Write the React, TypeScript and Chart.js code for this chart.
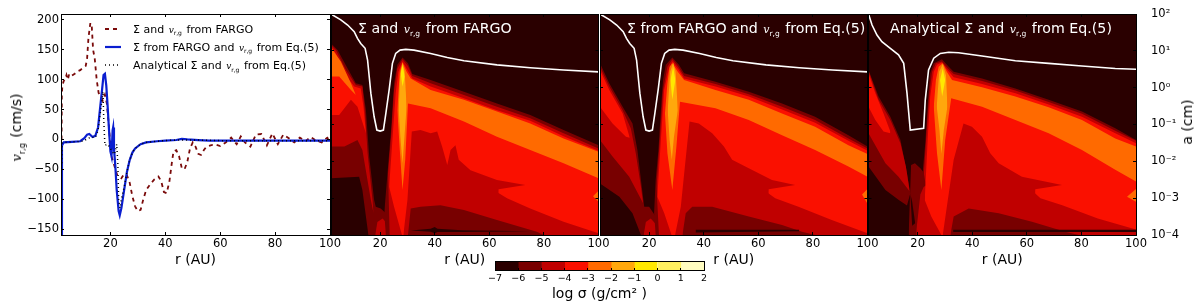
import React, { useEffect, useRef } from "react";
import { Chart, registerables } from "chart.js";

Chart.register(...registerables);

const FONT = "'DejaVu Sans', sans-serif";

// ---------- left panel: radial velocity ----------
const rFargo = [2.2, 2.3, 2.5, 3, 3.5, 4, 4.5, 5, 6, 7, 8, 9, 10, 11, 11.5, 12, 12.7, 13.2, 13.7, 14.3, 15, 15.7, 16.5, 17.2, 18, 18.7, 19.3, 20, 20.5, 21.5, 22.5, 24, 25, 26, 27, 28, 29, 30, 31, 32, 33, 34.5, 36, 37.5, 38.5, 39.5, 40.5, 41.5, 42.5, 43, 44, 45, 46, 47, 48, 49, 50, 51, 52, 53, 54, 55, 56.5, 58, 60, 62, 64, 66, 67.5, 69, 71, 73, 75, 77, 79, 81, 83, 85, 87, 89, 91, 93, 95, 97, 99, 100];
const vFargo = [0, 75, 90, 98, 100, 108, 100, 110, 107, 110, 114, 116, 120, 123, 135, 170, 195, 190, 150, 135, 100, 78, 72, 65, 75, 60, 30, -10, -30, -45, -60, -65, -58, -60, -72, -95, -112, -120, -118, -100, -85, -75, -67, -62, -70, -88, -90, -70, -35, -20, -18, -28, -48, -50, -38, -15, -5, -12, -24, -26, -18, -12, -10, -8, -11, -5, 3, -8, 5, -5, -12, 8, 9, -10, 10, -8, 8, 2, -5, 3, -3, 4, -2, -5, 3, -2];
const rEq5 = [2.3, 2.35, 3, 6, 9, 10.5, 11.5, 12.3, 13.5, 14.5, 15.5, 16.3, 17, 17.5, 18, 18.5, 19, 19.5, 20, 20.4, 20.8, 21, 21.3, 21.8, 22.3, 23, 23.4, 24, 25, 26, 27, 28, 29, 31, 33, 37, 40, 44, 46, 48, 52, 56, 60, 80, 100];
const vEq5 = [-160, -10, -5, -4, -3, 2, 8, 9, 4, 6, 20, 55, 85, 108, 110, 90, 55, 15, -20, -28, 15, 20, -15, -45, -85, -120, -127, -115, -85, -55, -35, -22, -15, -8, -5, -3, -2, -1, 1, 0, -1, -2, -2, -2, -2];
const rAnalytic = [2.3, 2.35, 3, 6, 10, 12, 13, 14.5, 15.5, 16.5, 17.3, 17.6, 18, 19, 20, 20.5, 21.5, 22.3, 22.7, 23, 23.5, 24, 25, 26, 27, 28, 29, 31, 33, 37, 40, 44, 52, 60, 80, 100];
const vAnalytic = [-40, -6, -5, -4, -3, 2, 4, 3, 15, 50, 80, 30, -10, -8, -15, -20, -25, -8, -40, -100, -115, -100, -80, -55, -35, -22, -15, -8, -5, -3, -2, -1, -1, -2, -2, -2];

const legendNames = ["fargo", "eq5", "analytic"];

// ---------- colour levels ----------
const bandColors = ["#2a0000", "#780000", "#c00000", "#fa1000", "#ff6a00", "#ffa80c", "#ffe800", "#fff060", "#fffcc0"];
const cbLevels = [-7, -6, -5, -4, -3, -2, -1, 0, 1, 2];

// ---------- dust size curves: [r (AU), log10 a (cm)] ----------
const wall = [[2, 2], [100, 2]];
const floor = [[2, -4], [100, -4]];
const whiteFargo = [[2, 2], [5.6, 1.84], [8.1, 1.7], [10.5, 1.52], [11.7, 1.34], [12.9, 1.2], [14.5, 1.07], [15.4, 0.75], [16.6, -0.15], [17.8, -0.79], [18.8, -1.15], [20, -1.18], [21.2, -1.15], [22.1, -0.7], [23.3, -0.06], [24.5, 0.66], [25.7, 0.93], [27.3, 1.02], [29.4, 1.04], [32.4, 1.02], [38.5, 0.93], [44.6, 0.82], [50.7, 0.73], [62.8, 0.62], [75, 0.54], [87.2, 0.48], [100, 0.43]];
const whiteAnalytic = [[2, 2], [3.3, 1.7], [5.1, 1.43], [6.9, 1.25], [10, 1.07], [13, 0.89], [14.9, 0.66], [16.1, -0.15], [17.3, -1.15], [22.2, -1.1], [22.8, -0.33], [24, 0.48], [25.9, 0.8], [28.3, 0.93], [31.4, 0.96], [35, 0.95], [43.6, 0.86], [55.8, 0.73], [68, 0.66], [80.2, 0.59], [92.4, 0.52], [100, 0.5]];

// panel A: Sigma and v from FARGO
const aIn6Up = [[2, 1.2], [4.4, 1.02], [8.1, 0.52], [11.1, 0.12], [13.5, 0.07], [14.8, -0.61], [16, -1.87], [17.8, -3.05], [18.4, -3.23], [20.2, -3.28], [22.1, -3.41], [23.6, -3.95], [23.9, -4]];
const aIn6Lo = [[2, -2.46], [12.3, -2.42], [13.5, -2.78], [15.7, -4], [23.9, -4]];
const aIn5Up = [[2, 1.16], [3.8, 1.02], [7.5, 0.48], [11.1, 0.07], [13.5, 0.03], [14.5, -0.7], [15.4, -1.78], [17.2, -3.05], [17.6, -3.41]];
const aIn5Lo = [[2, -1.6], [6.9, -1.6], [11.7, -1.42], [13.5, -1.69], [16.6, -3.05], [17.6, -3.41]];
const aIn4Up = [[2, 1.11], [3.8, 0.93], [6.9, 0.39], [10.5, 0.03], [12.9, -0.02], [13.9, -0.52], [14.8, -1.24]];
const aIn4Lo = [[2, -0.74], [5, -0.74], [9.3, -0.33], [11.7, -0.52], [14.8, -1.24]];
const aIn3Up = [[2, 1.09], [5.6, 0.71], [9.3, 0.12], [11.1, -0.2]];
const aIn3Lo = [[2, 0.3], [5, 0.3], [9.3, -0.06], [11.1, -0.2]];
const aMid5Up = [[18.2, -4], [19, -3.65], [20.9, -3.55], [22.7, -3.7], [23.9, -4]];
const aMid5Lo = [[18.2, -4], [23.9, -4]];
const aOut6Up = [[21.5, -3.41], [22.9, -2.14], [24.1, -1.06], [25.1, 0.12], [26.3, 0.62], [28.2, 0.82], [30.2, 0.66], [31.8, 0.37], [38.5, 0.21], [50.7, -0.11], [62.8, -0.43], [75, -0.74], [87.2, -1.15], [100, -1.56]];
const aOut6Lo = [[21.5, -3.41], [22.1, -4], [100, -4]];
const aOut5Up = [[22.9, -2.33], [24.1, -1.24], [25.1, -0.06], [26.3, 0.52], [28.2, 0.77], [30.2, 0.59], [31.8, 0.32], [38.5, 0.12], [50.7, -0.2], [62.8, -0.52], [75, -0.83], [87.2, -1.24], [100, -1.65]];
const aOut5Lo = [[22.9, -2.33], [23.5, -4], [100, -4]];
const aOut4Up = [[23.3, -2.69], [24.5, -1.42], [25.7, -0.15], [26.7, 0.43], [28.2, 0.71], [30, 0.48], [31.8, 0.25], [38.5, 0.03], [50.7, -0.29], [62.8, -0.61], [75, -0.9], [87.2, -1.32], [100, -1.71]];
const aOut4Lo = [[23.3, -2.69], [25.1, -3.23], [28, -4], [29, -4], [100, -4]];
const aOut3Up = [[26.3, -0.61], [27.2, 0.43], [28.2, 0.68], [29.7, 0.43], [31.2, 0.25], [38.5, -0.06], [50.7, -0.33], [62.8, -0.65], [75, -0.97], [87.2, -1.38], [100, -1.74]];
const aOut3Lo = [[26.3, -0.61], [27.2, -1.69], [28.2, -2.78], [29.2, -1.96], [30.2, -0.43], [38.5, -0.56], [50.7, -0.92], [62.8, -1.33], [75, -1.69], [87.2, -2.05], [100, -2.46]];
const aOut2Up = [[26.8, -0.61], [27.3, 0.3], [28.2, 0.68], [29, 0.43], [29.7, -0.52]];
const aOut2Lo = [[26.8, -0.61], [27.5, -1.42], [28.2, -2.05], [29, -1.24], [29.7, -0.52]];
const aOut1Up = [[27.5, 0.39], [28.2, 0.62], [29, 0.3]];
const aOut1Lo = [[27.5, 0.39], [28.2, 0.03], [29, 0.3]];
const aTongueUp = [[28.5, -4], [30, -3.05], [31.6, -1.19], [34.8, -1.15], [38.5, -1.24], [40.9, -1.19], [42.7, -1.6], [44.6, -2.1], [45.8, -1.69], [47.6, -1.56], [48.8, -1.96], [53.1, -2.24], [62.8, -2.51], [73.2, -2.64]];
const aTongueLo = [[28.5, -4], [62.8, -4], [63.4, -2.76], [73.2, -2.64]];
const aWedgeUp = [[62, -2.8], [66.5, -3], [75, -3.28], [87.2, -3.64], [100, -3.95]];
const aWedgeLo = [[62, -4], [100, -4]];
const aHoleUp = [[30.2, -4], [31.2, -3.28], [34.8, -3.23], [42.1, -3.19], [50.7, -3.32], [62.8, -3.59], [77.4, -3.91], [79.9, -4]];
const aHoleLo = [[30.2, -4], [79.9, -4]];
const aStreakUp = [[31.2, -3.88], [38.5, -3.83], [40, -3.78], [41, -3.83], [50, -3.87], [75, -3.9]];
const aStreakLo = [[31.2, -3.88], [38.5, -3.91], [40, -3.95], [41, -3.92], [50, -3.92], [75, -3.9]];
const aSpotUp = [[98, -2.95], [100, -2.8]];
const aSpotLo = [[98, -2.95], [100, -3.1]];

// panel B: Sigma from FARGO, v from Eq.(5)
const bIn6Up = [[2, 0.66], [5.4, 0.12], [10.3, -0.52], [13.9, -0.97], [15.7, -1.69], [17.3, -2.69], [18.2, -3.23], [20, -3.23], [22.4, -3.5], [23.6, -4]];
const bIn6Lo = [[2, -2.6], [9.1, -2.96], [13.9, -3.41], [17, -4], [23.6, -4]];
const bIn5Up = [[2, 0.57], [5.4, 0.03], [10.3, -0.61], [13.3, -1.11], [15.1, -1.78], [17, -2.69], [17.8, -3.14]];
const bIn5Lo = [[2, -1.42], [6.6, -1.87], [12.7, -2.42], [17.8, -3.14]];
const bIn4Up = [[2, 0.48], [5.4, -0.06], [10.3, -0.7], [12.9, -1.36]];
const bIn4Lo = [[2, -0.52], [6.6, -0.97], [11.5, -1.33], [12.9, -1.36]];
const bMid5Up = [[18, -4], [18.8, -3.65], [20.6, -3.55], [22.4, -3.7], [23.6, -4]];
const bMid5Lo = [[18, -4], [23.6, -4]];
const bOut6Up = [[21.8, -3.41], [22.4, -2.51], [23.4, -1.69], [24.3, -0.61], [25.1, 0.21], [26.1, 0.62], [28.5, 0.82], [30.9, 0.62], [32.8, 0.39], [44.3, 0.16], [56.5, -0.11], [68.7, -0.43], [80.8, -0.79], [93, -1.29], [100, -1.6]];
const bOut6Lo = [[21.8, -3.41], [22.4, -4], [100, -4]];
const bOut5Up = [[22.7, -2.69], [23.9, -1.42], [25.1, -0.06], [26.7, 0.57], [28.5, 0.77], [30.7, 0.57], [32.8, 0.32], [44.3, 0.1], [56.5, -0.18], [68.7, -0.52], [80.8, -0.88], [93, -1.38], [100, -1.65]];
const bOut5Lo = [[22.7, -2.69], [23.6, -4], [100, -4]];
const bOut4Up = [[23, -2.96], [24.3, -1.42], [25.5, -0.06], [27.1, 0.48], [28.5, 0.71], [30.7, 0.5], [32.8, 0.25], [44.3, 0.03], [56.5, -0.24], [68.7, -0.59], [80.8, -0.95], [93, -1.44], [100, -1.71]];
const bOut4Lo = [[23, -2.96], [25.5, -3.4], [28.2, -4], [29.5, -4], [100, -4]];
const bOut3Up = [[25.8, -0.7], [26.7, 0.12], [27.5, 0.57], [28.5, 0.66], [30.5, 0.43], [32.8, 0.21], [44.3, -0.06], [56.5, -0.33], [68.7, -0.7], [80.8, -1.06], [93, -1.56], [100, -1.8]];
const bOut3Lo = [[25.8, -0.7], [26.7, -1.78], [28.5, -2.78], [30, -1.6], [31.3, -0.38], [44.3, -0.56], [56.5, -0.88], [68.7, -1.29], [80.8, -1.69], [93, -2.14], [100, -2.42]];
const bOut2Up = [[26.8, -0.61], [27.7, 0.43], [28.8, 0.68], [29.7, 0.43], [30.5, -0.61]];
const bOut2Lo = [[26.8, -0.61], [27.5, -1.42], [28.3, -1.96], [29.1, -1.33], [30.5, -0.61]];
const bOut1Up = [[27.8, 0.21], [28.8, 0.57], [29.6, 0.21]];
const bOut1Lo = [[27.8, 0.21], [28.5, -0.33], [29.6, 0.21]];
const bTongueUp = [[29.5, -4], [31.6, -3.23], [33.1, -2.14], [34.8, -0.92], [38.2, -0.97], [43.1, -1.24], [47.4, -1.6], [50.4, -1.96], [56.5, -2.19], [65, -2.51], [73.5, -2.64]];
const bTongueLo = [[29.5, -4], [63.2, -4], [63.8, -2.76], [73.5, -2.64]];
const bWedgeUp = [[62.4, -2.8], [66.2, -3], [74.7, -3.23], [86.9, -3.59], [100, -3.95]];
const bWedgeLo = [[62.4, -4], [100, -4]];
const bHoleUp = [[32.2, -4], [33.4, -3.41], [35.8, -3.23], [43.1, -3.23], [56.5, -3.5], [68.7, -3.73], [76, -3.91], [80.8, -4]];
const bHoleLo = [[32.2, -4], [80.8, -4]];
const bStreakUp = [[37, -3.86], [75, -3.86]];
const bStreakLo = [[37, -3.93], [75, -3.9]];
const bSpotUp = [[98, -2.9], [100, -2.75]];
const bSpotLo = [[98, -2.9], [100, -3.15]];

// panel C: analytical Sigma, v from Eq.(5)
const cIn6Up = [[2, 0.48], [5.7, -0.24], [10, -0.79], [13.7, -1.42], [16.1, -2.33], [17.3, -2.87]];
const cIn6Lo = [[2, -2.14], [8.2, -2.78], [13.1, -3.05], [16.1, -3.2], [17.3, -2.87]];
const cIn5Up = [[2, 0.46], [5.7, -0.33], [10, -0.88], [13.7, -1.51], [15.7, -2.14], [17.1, -2.82]];
const cIn5Lo = [[2, -1.24], [8.2, -2.05], [13, -2.42], [17.1, -2.82]];
const cIn4Up = [[2, 0.39], [4.5, -0.15], [7.5, -0.7], [10, -1.19]];
const cIn4Lo = [[2, -0.52], [4.5, -0.88], [7.5, -1.19], [10, -1.24]];
const cMid6Up = [[16.7, -4], [17.6, -2.1], [19, -2.05], [21, -2.19], [22.5, -2.33], [24, -2.6], [26, -3.5], [28, -4]];
const cMid6Lo = [[16.7, -4], [28, -4]];
const cGapUp = [[17.3, -2.87], [18, -3.1], [19.1, -3.68]];
const cGapLo = [[17.3, -2.87], [18, -3.75], [19.1, -3.68]];
const cMid5Up = [[19.5, -3.9], [21, -2.9], [22.2, -2.7], [24, -2.6], [26, -3], [27.5, -4]];
const cMid5Lo = [[19.5, -4], [27.5, -4]];
const cOut6Up = [[21.8, -2.33], [22.8, -1.51], [23.8, -0.33], [24.6, 0.39], [25.9, 0.66], [28.9, 0.77], [31.4, 0.57], [33.2, 0.43], [43.6, 0.25], [55.8, -0.02], [68, -0.33], [80.2, -0.65], [92.4, -1.1], [100, -1.42]];
const cOut6Lo = [[21.8, -2.33], [24.5, -4], [100, -4]];
const cOut5Up = [[22.3, -2.33], [23.4, -1.06], [24.3, -0.15], [25.3, 0.43], [26.7, 0.66], [28.9, 0.71], [31.1, 0.52], [33.2, 0.37], [43.6, 0.18], [55.8, -0.08], [68, -0.39], [80.2, -0.71], [92.4, -1.17], [100, -1.44]];
const cOut5Lo = [[22.3, -2.33], [24.6, -3.4], [26, -4], [100, -4]];
const cOut4Up = [[22.6, -3.05], [23.8, -1.24], [24.6, -0.24], [25.9, 0.43], [27.1, 0.62], [28.9, 0.68], [30.7, 0.5], [33.2, 0.28], [43.6, 0.1], [55.8, -0.15], [68, -0.46], [80.2, -0.79], [92.4, -1.24], [100, -1.51]];
const cOut4Lo = [[22.6, -3.05], [25, -3.5], [28.7, -4], [29.5, -4], [100, -4]];
const cOut3Up = [[25.9, -0.52], [26.7, 0.21], [27.7, 0.57], [29.2, 0.66], [30.7, 0.43], [32.6, 0.21], [43.6, 0.01], [55.8, -0.24], [68, -0.53], [80.2, -0.88], [92.4, -1.38], [100, -1.6]];
const cOut3Lo = [[25.9, -0.52], [27.1, -1.78], [28.7, -2.78], [30.1, -1.42], [32.3, -0.29], [43.6, -0.52], [55.8, -0.88], [68, -1.24], [80.2, -1.69], [92.4, -2.23], [100, -2.55]];
const cOut2Up = [[27, -0.52], [27.9, 0.43], [29.2, 0.64], [30.4, 0.34], [30.9, -0.52]];
const cOut2Lo = [[27, -0.52], [28, -1.15], [28.7, -1.8], [29.6, -1.15], [30.9, -0.52]];
const cOut1Up = [[28.2, 0.21], [29.2, 0.52], [30.1, 0.21]];
const cOut1Lo = [[28.2, 0.21], [29, -0.24], [30.1, 0.21]];
const cTongueUp = [[29.2, -4], [30.7, -3.23], [33.2, -1.96], [36.8, -0.97], [39.9, -1.06], [43.6, -1.33], [46.6, -1.78], [49.7, -2.05], [58.2, -2.42], [72.9, -2.64]];
const cTongueLo = [[29.2, -4], [62.5, -4], [63.1, -2.76], [72.9, -2.64]];
const cWedgeUp = [[61.7, -2.78], [65, -3], [73, -3.19], [86, -3.55], [100, -3.85]];
const cWedgeLo = [[61.7, -4], [100, -4]];
const cHoleUp = [[32, -4], [33.2, -3.5], [38.7, -3.28], [49.7, -3.41], [61.9, -3.64], [74.1, -3.91], [79, -4]];
const cHoleLo = [[32, -4], [79, -4]];
const cStreakUp = [[33, -3.86], [100, -3.86]];
const cStreakLo = [[33, -3.92], [100, -3.92]];
const cSpotUp = [[96.7, -2.96], [100, -2.75]];
const cSpotLo = [[96.7, -2.96], [100, -3.1]];

// paint order: bottom first; [level index, upper boundary, lower boundary]
const bandsA: any[] = [[0, wall, floor], [1, aIn6Up, aIn6Lo], [2, aIn5Up, aIn5Lo], [3, aIn4Up, aIn4Lo], [4, aIn3Up, aIn3Lo], [2, aMid5Up, aMid5Lo], [1, aOut6Up, aOut6Lo], [2, aOut5Up, aOut5Lo], [3, aOut4Up, aOut4Lo], [4, aOut3Up, aOut3Lo], [5, aOut2Up, aOut2Lo], [6, aOut1Up, aOut1Lo], [2, aTongueUp, aTongueLo], [2, aWedgeUp, aWedgeLo], [1, aHoleUp, aHoleLo], [0, aStreakUp, aStreakLo], [4, aSpotUp, aSpotLo]];
const bandsB: any[] = [[0, wall, floor], [1, bIn6Up, bIn6Lo], [2, bIn5Up, bIn5Lo], [3, bIn4Up, bIn4Lo], [2, bMid5Up, bMid5Lo], [1, bOut6Up, bOut6Lo], [2, bOut5Up, bOut5Lo], [3, bOut4Up, bOut4Lo], [4, bOut3Up, bOut3Lo], [5, bOut2Up, bOut2Lo], [6, bOut1Up, bOut1Lo], [2, bTongueUp, bTongueLo], [2, bWedgeUp, bWedgeLo], [1, bHoleUp, bHoleLo], [0, bStreakUp, bStreakLo], [4, bSpotUp, bSpotLo]];
const bandsC: any[] = [[0, wall, floor], [1, cIn6Up, cIn6Lo], [2, cIn5Up, cIn5Lo], [3, cIn4Up, cIn4Lo], [1, cMid6Up, cMid6Lo], [0, cGapUp, cGapLo], [1, cOut6Up, cOut6Lo], [2, cMid5Up, cMid5Lo], [2, cOut5Up, cOut5Lo], [3, cOut4Up, cOut4Lo], [4, cOut3Up, cOut3Lo], [5, cOut2Up, cOut2Lo], [6, cOut1Up, cOut1Lo], [2, cTongueUp, cTongueLo], [2, cWedgeUp, cWedgeLo], [1, cHoleUp, cHoleLo], [0, cStreakUp, cStreakLo], [4, cSpotUp, cSpotLo]];

const W = 1200;
const H = 306;
const TOP = 14;
const BOTTOM = 235;
const SUP: Record<string, string> = { "-": "⁻", "0": "⁰", "1": "¹", "2": "²" };

const minus = (v: any) => String(v).replace("-", "−");
const pts = (rows: number[][]) => rows.map(([x, y]) => ({ x, y }));
const zip = (xs: number[], ys: number[]) => xs.map((x, i) => ({ x, y: ys[i] }));

const noPad = (s: any) => { s.paddingTop = 0; s.paddingBottom = 0; s.paddingLeft = 0; s.paddingRight = 0; };
const fixH = (h: number) => (s: any) => { s.height = h; noPad(s); };
const fixW = (w: number) => (s: any) => { s.width = w; noPad(s); };
const lines = { drawOnChartArea: false, color: "#000", tickLength: -3, z: 1 };
const edge = { color: "#000", z: 1 };

function frameScales(L: number, R: number, y: any, showLeft: boolean, showRight: boolean) {
  const yCommon = y;
  const xCommon = { type: "linear", min: 2, max: 100, ticks: { stepSize: 20, includeBounds: false, autoSkip: false, maxRotation: 0, display: false, padding: 0 }, grid: lines, border: edge };
  return {
    x: {
      ...xCommon,
      position: "bottom",
      afterFit: fixH(H - BOTTOM),
      ticks: { ...xCommon.ticks, display: true, color: "#000", padding: 5, font: { family: FONT, size: 11.5 } },
      title: { display: true, text: "r (AU)", color: "#000", font: { family: FONT, size: 14 }, padding: { top: 0, bottom: 37 } },
    },
    xT: { ...xCommon, position: "top", afterFit: fixH(TOP) },
    y: {
      ...yCommon,
      position: "left",
      afterFit: fixW(L),
      ticks: { ...yCommon.ticks, display: showLeft, color: "#000", padding: 5, font: { family: FONT, size: 11.5 }, callback: minus },
      grid: lines,
      border: edge,
    },
    yR: {
      ...yCommon,
      position: "right",
      afterFit: fixW(W - R),
      ticks: {
        ...yCommon.ticks,
        display: showRight,
        color: "#000",
        padding: 18,
        font: { family: FONT, size: 11.5 },
        callback: (v: any) => "10" + String(v).split("").map((c) => SUP[c] ?? c).join(""),
      },
      grid: lines,
      border: edge,
    },
  };
}

const chartOptions = (scales: any) => ({
  responsive: false,
  animation: false as const,
  events: [] as any[],
  layout: { padding: 0 },
  plugins: { legend: { display: false }, tooltip: { enabled: false }, title: { display: false } },
  scales,
});

function contourDatasets(bands: any[], white: number[][]) {
  const ds: any[] = [
    { data: pts(white), borderColor: "#fff", borderWidth: 1.6, pointRadius: 0, tension: 0, fill: false },
  ];
  // Chart.js paints the first dataset last, so the top band comes first.
  [...bands].reverse().forEach(([level, up, lo]) => {
    ds.push({ data: pts(up), borderWidth: 0, pointRadius: 0, tension: 0, fill: "+1", backgroundColor: bandColors[level] });
    ds.push({ data: pts(lo), borderWidth: 0, pointRadius: 0, tension: 0, fill: false });
  });
  return ds;
}

const logAxis = { type: "linear", min: -4, max: 2, ticks: { stepSize: 1, autoSkip: false, includeBounds: false } };
const velAxis = { type: "linear", min: -160, max: 210, ticks: { stepSize: 50, autoSkip: false, includeBounds: false } };

function V({ size, base }: { size: number; base: number }) {
  return (
    <span style={{ whiteSpace: "nowrap", padding: "0 1px" }}>
      <i style={{ fontFamily: "'DejaVu Serif', serif", fontSize: base }}>v</i>
      <span style={{ fontSize: size, position: "relative", top: size * 0.45 }}>r,g</span>
    </span>
  );
}

const legendRows = [
  { key: legendNames[0], top: 28.5, color: "#7a0a0a", dash: "4 4", width: 2, label: <>Σ and <V size={6} base={9} /> from FARGO</> },
  { key: legendNames[1], top: 46.5, color: "#0a1ed0", dash: "", width: 2.2, label: <>Σ from FARGO and <V size={6} base={9} /> from Eq.(5)</> },
  { key: legendNames[2], top: 65, color: "#000", dash: "1 3", width: 1.6, label: <>Analytical Σ and <V size={6} base={9} /> from Eq.(5)</> },
];

const panelTitles = [
  { left: 358, label: <>Σ and <V size={7.5} base={11} /> from FARGO</> },
  { left: 627, label: <>Σ from FARGO and <V size={7.5} base={11} /> from Eq.(5)</> },
  { left: 890, label: <>Analytical Σ and <V size={7.5} base={11} /> from Eq.(5)</> },
];

const abs: React.CSSProperties = { position: "absolute", left: 0, top: 0 };

export default function App() {
  const refs = [useRef<HTMLCanvasElement>(null), useRef<HTMLCanvasElement>(null), useRef<HTMLCanvasElement>(null), useRef<HTMLCanvasElement>(null), useRef<HTMLCanvasElement>(null)];

  useEffect(() => {
    const charts: Chart[] = [];
    charts.push(
      new Chart(refs[0].current!, {
        type: "line",
        data: {
          datasets: [
            { data: zip(rAnalytic, vAnalytic), borderColor: "#000", borderWidth: 1.5, borderDash: [1, 3], pointRadius: 0, tension: 0 },
            { data: zip(rEq5, vEq5), borderColor: "#0a1ed0", borderWidth: 2.2, pointRadius: 0, tension: 0 },
            { data: zip(rFargo, vFargo), borderColor: "#7a0a0a", borderWidth: 1.8, borderDash: [4, 4], pointRadius: 0, tension: 0 },
          ],
        },
        options: chartOptions(frameScales(61, 330, velAxis, true, false)) as any,
      })
    );
    const panels: [any[], number[][], number, number, boolean][] = [
      [bandsA, whiteFargo, 331, 598.5, false],
      [bandsB, whiteFargo, 600, 867.5, false],
      [bandsC, whiteAnalytic, 868.5, 1136, true],
    ];
    panels.forEach(([bands, white, L, R, right], i) => {
      charts.push(
        new Chart(refs[i + 1].current!, {
          type: "line",
          data: { datasets: contourDatasets(bands, white) },
          options: chartOptions(frameScales(L, R, logAxis, false, right)) as any,
        })
      );
    });
    charts.push(
      new Chart(refs[4].current!, {
        type: "bar",
        data: {
          labels: ["log sigma"],
          datasets: bandColors.map((c, i) => ({
            data: [[cbLevels[i], cbLevels[i + 1]]] as any,
            backgroundColor: c,
            barPercentage: 1,
            categoryPercentage: 1,
            grouped: false,
          })),
        },
        options: {
          ...chartOptions({
            x: {
              type: "linear",
              position: "bottom",
              min: cbLevels[0],
              max: cbLevels[cbLevels.length - 1],
              afterFit: fixH(36),
              ticks: { stepSize: 1, autoSkip: false, maxRotation: 0, color: "#000", padding: 5, font: { family: FONT, size: 9.5 }, callback: minus },
              grid: { ...lines, tickLength: -2 },
              border: edge,
              title: { display: true, text: "log σ (g/cm² )", color: "#000", font: { family: FONT, size: 14 }, padding: { top: 0, bottom: 3 } },
            },
            xT: { type: "linear", position: "top", min: -7, max: 2, afterFit: fixH(261), ticks: { display: false }, grid: { display: false }, border: edge },
            y: { type: "category", position: "left", afterFit: fixW(495), ticks: { display: false }, grid: { display: false }, border: edge },
            yR: { type: "linear", position: "right", afterFit: fixW(W - 704), ticks: { display: false }, grid: { display: false }, border: edge },
          }),
          indexAxis: "y",
        } as any,
      })
    );
    return () => charts.forEach((c) => c.destroy());
  }, []);

  return (
    <div style={{ position: "absolute", left: 0, top: 0, width: W, height: H, background: "#fff", overflow: "hidden", fontFamily: FONT }}>
      {refs.map((r, i) => (
        <canvas key={i} ref={r} width={W} height={H} style={abs} />
      ))}
      {panelTitles.map((t, i) => (
        <div key={i} style={{ position: "absolute", left: t.left, top: 28, transform: "translateY(-50%)", color: "#fff", fontSize: 14.2, whiteSpace: "nowrap" }}>
          {t.label}
        </div>
      ))}
      {legendRows.map((row) => (
        <React.Fragment key={row.key}>
          <svg width={16} height={4} style={{ position: "absolute", left: 105, top: row.top - 2 }}>
            <line x1={0} y1={2} x2={16} y2={2} stroke={row.color} strokeWidth={row.width} strokeDasharray={row.dash} />
          </svg>
          <div style={{ position: "absolute", left: 133, top: row.top, transform: "translateY(-50%)", color: "#000", fontSize: 11, whiteSpace: "nowrap" }}>
            {row.label}
          </div>
        </React.Fragment>
      ))}
      <div style={{ position: "absolute", left: 16, top: 128, transform: "translate(-50%,-50%) rotate(-90deg)", fontSize: 14, whiteSpace: "nowrap" }}>
        <V size={8} base={13} /> (cm/s)
      </div>
      <div style={{ position: "absolute", left: 1187, top: 122, transform: "translate(-50%,-50%) rotate(-90deg)", fontSize: 14, whiteSpace: "nowrap" }}>
        a (cm)
      </div>
    </div>
  );
}
